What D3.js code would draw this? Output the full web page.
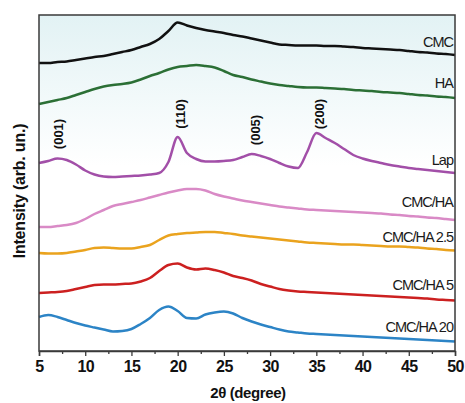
<!DOCTYPE html>
<html>
<head>
<meta charset="utf-8">
<script src="https://cdn.jsdelivr.net/npm/d3@7"></script>
<style>
  body { margin: 0; background: #fff; }
  svg { display: block; font-family: "Liberation Sans", Arial, sans-serif; }
</style>
</head>
<body>
<div id="chart"></div>
<script>
// 2theta grid (degree)
var twoTheta = d3.range(5, 51, 1);

// stacked intensities (arb. un.), one value per degree
var cmc = [288,288,289,289.5,291,292.5,294,295,297,299,301,304,307,312,320,328.5,325.5,323,321,319.5,318,316,314.5,312.5,310.5,308.5,306.5,306,305.5,305.5,305.5,305,305,304.5,304,303,302.5,302,301.5,301,300,299,298.5,297.5,297,296];
var ha = [247,249,251,253,256,259,262,264.5,266,267,268.5,271.5,275,278,281.5,284,285,286,285,283.5,280,276,274,271.5,269.5,267.5,266,265,264,263.5,263.5,263,262.5,262,261,260.5,260,259,258.5,258,257,256,255.5,254.5,254,253];
var lap = [188,190,192.5,191,186.5,180.5,176.5,174.5,174,174.5,175,175.5,176.5,178,189,214,198,192,189.5,189.5,190,191,194,197,195,192,188,184.5,183,199,218,213,208,202,196,192.5,190,188,186,184.5,183,182,181,180,179,178];
var cmcHa = [124,124,125,126,128,132,137,141,145,147,149,151,153.5,156,158.5,160.5,162,162,160.5,157,154.5,152.5,150.5,149,147.5,146,144.5,143.5,142.5,141.5,141,140.5,140,139.5,139,138.5,138,137.5,136.5,136,135,134.5,133.5,133,132,131];
var cmcHa25 = [98,97.5,97.5,98,99.5,101,103,103.5,103,102.5,102.5,104,106,111,115.5,117,118,118.5,119,119,118,117,115.5,114.5,113.5,112.5,111.5,110.5,109.5,108.5,108,107.5,107,106.5,106.5,106,105.5,105,104.5,104.5,104,103.5,102.5,102,101,100.5];
var cmcHa5 = [58,58.5,59,60,62,64,66,66.5,66.5,67,67.5,69.5,73,80,86,87.5,83.5,81.5,82.5,81,78.5,75,73,70.5,67,64.5,62,60.5,59.5,59,58.5,58,57.5,57,56.5,56,55.5,55,54.5,54,53.5,53,52.5,51.5,51,50.5];
var cmcHa20 = [34,36,34,31,28,25.5,23.5,21.5,19.5,20,22,27,33,41,44.5,40,33,32.5,36.5,38.5,39.5,37.5,33,29.5,26.5,24,21.5,19.5,18.5,17.5,17,16.5,16,15.5,15,14.5,14,13.5,13,12.5,12,11.5,11,10.5,10,9.5];

var seriesNames = ["CMC", "HA", "Lap", "CMC/HA", "CMC/HA 2.5", "CMC/HA 5", "CMC/HA 20"];
var seriesValues = [cmc, ha, lap, cmcHa, cmcHa25, cmcHa5, cmcHa20];
var seriesColors = ["#111111", "#2b6f35", "#a24fa8", "#d98ac6", "#eaa31e", "#cc2020", "#2c84c6"];
// label baseline level for each series (same arb. units)
var labelLevels = [304, 263, 186, 144, 109, 61, 19];

// Lap reflections
var peakLabels = ["(001)", "(110)", "(005)", "(200)"];
var peakPos = [7.1, 20.3, 28.4, 35.3];
var peakLevels = [217, 237, 221, 237];

var xTicks = d3.range(5, 51, 5);
var xMinor = d3.range(7.5, 50, 5);

var width = 465, height = 403;
var margin = {top: 15, right: 10, bottom: 52, left: 39};
var chartWidth = width - margin.left - margin.right;
var chartHeight = height - margin.top - margin.bottom;

var svg = d3.select("#chart").append("svg")
  .attr("width", width)
  .attr("height", height);

var defs = svg.append("defs");
var grad = defs.append("linearGradient")
  .attr("id", "bg")
  .attr("x1", 0).attr("y1", 0).attr("x2", 0).attr("y2", 1);
grad.append("stop").attr("offset", "0%").attr("stop-color", "#e2f2f4");
grad.append("stop").attr("offset", "45%").attr("stop-color", "#ffffff");
grad.append("stop").attr("offset", "100%").attr("stop-color", "#ffffff");

var chartGroup = svg.append("g")
  .attr("transform", `translate(${margin.left}, ${margin.top})`);

var x = d3.scaleLinear().domain([5, 50]).range([0, chartWidth]);
var y = d3.scaleLinear().domain([0, 336]).range([chartHeight, 0]);

chartGroup.append("rect")
  .attr("width", chartWidth)
  .attr("height", chartHeight)
  .attr("fill", "url(#bg)");

// traces
var line = d3.line()
  .x((d, i) => x(twoTheta[i]))
  .y(d => y(d))
  .curve(d3.curveMonotoneX);

seriesValues.forEach(function(vals, k) {
  chartGroup.append("path")
    .datum(vals)
    .attr("fill", "none")
    .attr("stroke", seriesColors[k])
    .attr("stroke-width", 2.5)
    .attr("stroke-linejoin", "round")
    .attr("d", line);

  chartGroup.append("text")
    .attr("x", chartWidth - 2)
    .attr("y", y(labelLevels[k]))
    .attr("text-anchor", "end")
    .attr("font-size", 14.5)
    .attr("letter-spacing", -1)
    .attr("fill", "#1a1a1a")
    .text(seriesNames[k]);
});

// peak indices
peakLabels.forEach(function(lbl, i) {
  chartGroup.append("text")
    .attr("transform", `translate(${x(peakPos[i])}, ${y(peakLevels[i])}) rotate(-90)`)
    .attr("text-anchor", "middle")
    .attr("dy", "0.36em")
    .attr("font-size", 13)
    .attr("font-weight", "bold")
    .attr("fill", "#111")
    .text(lbl);
});

// frame
chartGroup.append("rect")
  .attr("width", chartWidth)
  .attr("height", chartHeight)
  .attr("fill", "none")
  .attr("stroke", "#3a3a3a")
  .attr("stroke-width", 1.5);

// x axis
var bottomAxis = d3.axisBottom(x).tickValues(xTicks).tickSize(5).tickPadding(5);
var xAxis = chartGroup.append("g")
  .attr("transform", `translate(0, ${chartHeight})`)
  .call(bottomAxis);
xAxis.select(".domain").attr("stroke", "#3a3a3a").attr("stroke-width", 1.5);
xAxis.selectAll(".tick line").attr("stroke", "#3a3a3a").attr("stroke-width", 1.3);
xAxis.selectAll(".tick text")
  .attr("font-size", 16)
  .attr("font-weight", "bold")
  .attr("letter-spacing", -0.6)
  .attr("font-family", "Liberation Sans, Arial, sans-serif")
  .attr("fill", "#111");

chartGroup.append("g")
  .attr("transform", `translate(0, ${chartHeight})`)
  .call(d3.axisBottom(x).tickValues(xMinor).tickSize(3).tickFormat(""))
  .call(g => g.select(".domain").remove())
  .selectAll(".tick line").attr("stroke", "#3a3a3a").attr("stroke-width", 1.3);

// axis titles
svg.append("text")
  .attr("x", 248)
  .attr("y", 398)
  .attr("text-anchor", "middle")
  .attr("font-size", 15)
  .attr("font-weight", "bold")
  .attr("letter-spacing", -0.4)
  .attr("fill", "#111")
  .text("2θ (degree)");

svg.append("text")
  .attr("transform", "translate(25, 191) rotate(-90)")
  .attr("text-anchor", "middle")
  .attr("font-size", 16)
  .attr("font-weight", "bold")
  .attr("letter-spacing", -0.2)
  .attr("fill", "#111")
  .text("Intensity (arb. un.)");
</script>
</body>
</html>
